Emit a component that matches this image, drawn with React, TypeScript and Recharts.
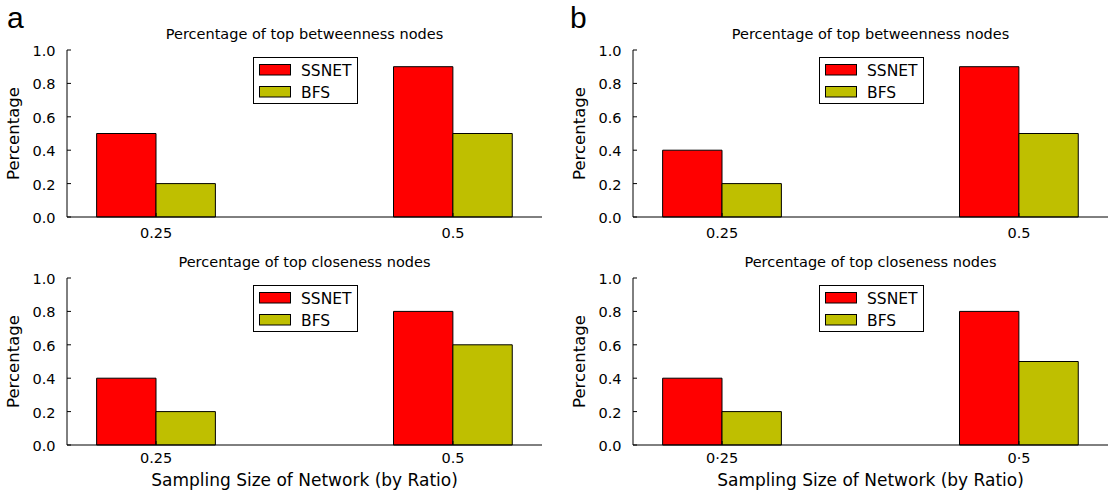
import React from 'react';
import { BarChart, Bar, XAxis, YAxis, Legend } from 'recharts';

// sampling ratios (category labels), panel b bottom uses a middle dot
const ratioLabels = ['0.25', '0.5'];
const ratioLabelsDot = ['0·25', '0·5'];
const yTicks = [0, 0.2, 0.4, 0.6, 0.8, 1.0];

// panel a
const aBetweenSsnet = [0.5, 0.9];
const aBetweenBfs = [0.2, 0.5];
const aCloseSsnet = [0.4, 0.8];
const aCloseBfs = [0.2, 0.6];

// panel b
const bBetweenSsnet = [0.4, 0.9];
const bBetweenBfs = [0.2, 0.5];
const bCloseSsnet = [0.4, 0.8];
const bCloseBfs = [0.2, 0.5];

const FONT = '"DejaVu Sans", sans-serif';
const RED = '#ff0000';
const OLIVE = '#bfbf00';

const makeData = (ssnet: number[], bfs: number[]) =>
  ratioLabels.map((_, i) => ({ pos: i, ssnet: ssnet[i], bfs: bfs[i] }));

interface PanelProps {
  left: number;
  top: number;
  width: number;
  height: number;
  plotL: number;
  plotT: number;
  plotR: number;
  plotB: number;
  data: { pos: number; ssnet: number; bfs: number }[];
  labels: string[];
  tickGap: number;
}

const LegendBox = () => (
  <svg width={106} height={48} style={{ display: 'block' }}>
    <rect x={0.5} y={0.5} width={104} height={46} fill="#fff" stroke="#000" />
    <rect x={6.5} y={7.5} width={31} height={10.5} fill={RED} stroke="#000" />
    <rect x={6.5} y={29.5} width={31} height={10.5} fill={OLIVE} stroke="#000" />
    <text x={48} y={18.5} fontSize={15.5} fontFamily={FONT} fill="#000">SSNET</text>
    <text x={48} y={40.5} fontSize={15.5} fontFamily={FONT} fill="#000">BFS</text>
  </svg>
);

const Panel: React.FC<PanelProps> = ({ left, top, width, height, plotL, plotT, plotR, plotB, data, labels, tickGap }) => {
  const yAxisW = plotL - left;
  const xAxisH = top + height - plotB;
  const plotW = plotR - plotL;
  const unit = plotW / 1.6;
  const barSize = 0.2 * unit;
  const localPlotT = plotT - top;
  const plotH = plotB - plotT;

  return (
    <div style={{ position: 'absolute', left, top }}>
      <BarChart
        width={width}
        height={height}
        data={data}
        margin={{ top: localPlotT, right: left + width - plotR, bottom: 0, left: 0 }}
        barGap={0}
      >
        <XAxis
          dataKey="pos"
          type="number"
          domain={[-0.3, 1.3]}
          ticks={[0, 1]}
          interval={0}
          height={xAxisH}
          stroke="#000"
          tickSize={-4}
          tickMargin={0}
          tick={(p: any) => (
            <text x={p.x} y={p.y + 4 + tickGap} textAnchor="middle" fontSize={14.5} fontFamily={FONT} fill="#000">
              {labels[p.payload.value]}
            </text>
          )}
        />
        <XAxis
          xAxisId="top"
          orientation="top"
          dataKey="pos"
          type="number"
          domain={[-0.3, 1.3]}
          ticks={[0, 1]}
          interval={0}
          height={0}
          stroke="#000"
          tickSize={-4}
          tick={false}
        />
        <YAxis
          type="number"
          domain={[0, 1]}
          ticks={yTicks}
          interval={0}
          width={yAxisW}
          stroke="#000"
          tickSize={-4}
          tickMargin={0}
          tick={(p: any) => (
            <text x={p.x - 4 - 11.5} y={p.y + 6} textAnchor="end" fontSize={14.5} fontFamily={FONT} fill="#000">
              {Number(p.payload.value).toFixed(1)}
            </text>
          )}
          label={() => {
            const cx = yAxisW - 48;
            const cy = localPlotT + plotH / 2;
            return (
              <text
                x={cx}
                y={cy}
                transform={`rotate(-90, ${cx}, ${cy})`}
                textAnchor="middle"
                fontSize={16.5}
                fontFamily={FONT}
                fill="#000"
              >
                Percentage
              </text>
            );
          }}
        />
        <YAxis
          yAxisId="r"
          orientation="right"
          type="number"
          domain={[0, 1]}
          ticks={yTicks}
          interval={0}
          width={0}
          stroke="#000"
          tickSize={-4}
          tick={false}
        />
        <Legend
          layout="horizontal"
          verticalAlign="middle"
          align="center"
          content={() => <LegendBox />}
          wrapperStyle={{ left: yAxisW + plotW / 2 - 52, top: localPlotT + 7, width: 106, height: 48 }}
        />
        <Bar dataKey="ssnet" name="SSNET" fill={RED} stroke="#000" strokeWidth={1} barSize={barSize} isAnimationActive={false} />
        <Bar dataKey="bfs" name="BFS" fill={OLIVE} stroke="#000" strokeWidth={1} barSize={barSize} isAnimationActive={false} />
      </BarChart>
    </div>
  );
};

const App: React.FC = () => {
  const aL = 67, aR = 542, bL = 633, bR = 1108;
  const topT = 50, topB = 217, botT = 278, botB = 445;

  return (
    <div style={{ position: 'absolute', left: 0, top: 0, width: 1109, height: 494, background: '#fff', overflow: 'hidden' }}>
      <Panel left={0} top={0} width={555} height={245} plotL={aL} plotT={topT} plotR={aR} plotB={topB}
        data={makeData(aBetweenSsnet, aBetweenBfs)} labels={ratioLabels} tickGap={21} />
      <Panel left={0} top={245} width={555} height={249} plotL={aL} plotT={botT} plotR={aR} plotB={botB}
        data={makeData(aCloseSsnet, aCloseBfs)} labels={ratioLabels} tickGap={18} />
      <Panel left={555} top={0} width={554} height={245} plotL={bL} plotT={topT} plotR={bR} plotB={topB}
        data={makeData(bBetweenSsnet, bBetweenBfs)} labels={ratioLabels} tickGap={21} />
      <Panel left={555} top={245} width={554} height={249} plotL={bL} plotT={botT} plotR={bR} plotB={botB}
        data={makeData(bCloseSsnet, bCloseBfs)} labels={ratioLabelsDot} tickGap={18} />

      <svg width={1109} height={494} style={{ position: 'absolute', left: 0, top: 0, pointerEvents: 'none' }}>
        <text x={7} y={27.5} fontSize={30} fontFamily='"Liberation Sans", Arial, sans-serif' fill="#000">a</text>
        <text x={570} y={27.5} fontSize={30} fontFamily='"Liberation Sans", Arial, sans-serif' fill="#000">b</text>
        <text x={(aL + aR) / 2} y={topT - 11} textAnchor="middle" fontSize={14.5} fontFamily={FONT} fill="#000">
          Percentage of top betweenness nodes
        </text>
        <text x={(bL + bR) / 2} y={topT - 11} textAnchor="middle" fontSize={14.5} fontFamily={FONT} fill="#000">
          Percentage of top betweenness nodes
        </text>
        <text x={(aL + aR) / 2} y={botT - 11} textAnchor="middle" fontSize={14.5} fontFamily={FONT} fill="#000">
          Percentage of top closeness nodes
        </text>
        <text x={(bL + bR) / 2} y={botT - 11} textAnchor="middle" fontSize={14.5} fontFamily={FONT} fill="#000">
          Percentage of top closeness nodes
        </text>
        <text x={(aL + aR) / 2} y={485.5} textAnchor="middle" fontSize={17} fontFamily={FONT} fill="#000">
          Sampling Size of Network (by Ratio)
        </text>
        <text x={(bL + bR) / 2} y={485.5} textAnchor="middle" fontSize={17} fontFamily={FONT} fill="#000">
          Sampling Size of Network (by Ratio)
        </text>
      </svg>
    </div>
  );
};

export default App;
